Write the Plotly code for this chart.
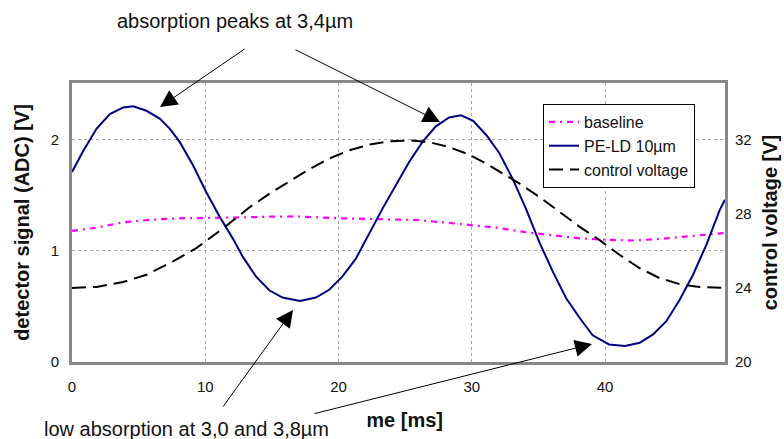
import plotly.graph_objects as go

# ---------------- data ----------------
pe_t = [0, 0.85, 1.85, 2.84, 3.84, 4.59, 5.59, 6.58, 7.33, 8.08, 9.08, 10.07, 11.07, 12.07,
        12.8, 13.8, 14.8, 15.8, 17.1, 18.3, 19.3, 20.3, 21.3, 22.3, 23.3, 24.3, 25.3, 26.3,
        27.3, 28.3, 29.2, 30.1, 31.1, 32.06, 33.06, 34.06, 35.06, 36.07, 37.07, 38.07,
        39.07, 40.3, 41.5, 42.6, 43.6, 44.6, 45.6, 46.6, 47.6, 48.6, 49.0]
pe_v = [1.71, 1.90, 2.10, 2.23, 2.29, 2.30, 2.26, 2.19, 2.10, 1.98, 1.77, 1.53, 1.31, 1.11,
        0.95, 0.77, 0.645, 0.58, 0.548, 0.58, 0.65, 0.77, 0.93, 1.16, 1.38, 1.59, 1.80, 1.98,
        2.12, 2.20, 2.22, 2.17, 2.04, 1.88, 1.65, 1.38, 1.08, 0.815, 0.576, 0.40,
        0.24, 0.158, 0.143, 0.173, 0.248, 0.367, 0.56, 0.785, 1.054, 1.367, 1.46]

base_t = [0, 1.85, 3.84, 6.08, 8.08, 10.3, 12.3, 14.8, 16.8, 20.05, 23.8, 25.8, 27.8, 29.8,
          31.8, 34.06, 36.07, 38.07, 40.07, 42.08, 44.09, 46.1, 48.1, 49.0]
base_v = [1.179, 1.209, 1.257, 1.281, 1.293, 1.30, 1.30, 1.307, 1.31, 1.293, 1.284, 1.278,
          1.257, 1.233, 1.209, 1.167, 1.137, 1.113, 1.099, 1.093, 1.107, 1.128, 1.149, 1.161]

ctrl_t = [0, 1.85, 3.84, 5.59, 7.58, 9.33, 11.32, 13.32, 15.06, 16.8, 17.8, 19.3, 20.8, 22.3,
          23.8, 25.3, 26.8, 28.3, 29.8, 31.3, 32.8, 33.56, 35.06, 36.57, 38.07, 39.57,
          41.08, 42.58, 44.09, 45.59, 47.1, 49.0]
ctrl_v = [24.0, 24.05, 24.32, 24.71, 25.43, 26.15, 27.2, 28.35, 29.2, 29.95, 30.4, 30.98,
          31.43, 31.73, 31.91, 31.96, 31.87, 31.6, 31.2, 30.62, 30.0, 29.64, 28.92, 28.11,
          27.31, 26.59, 25.79, 25.07, 24.53, 24.2, 24.05, 24.0]

x_ticks = [0, 10, 20, 30, 40]
y_ticks = [0, 1, 2]
y2_ticks = [20, 24, 28, 32]

# ---------------- layout helpers ----------------
L, R, T, B = 72, 725, 83, 362
W, H = 784, 439


def px(x):
    return (x - L) / (R - L)


def py(y):
    return (B - y) / (B - T)


FONT = "Liberation Sans, Arial, sans-serif"

fig = go.Figure()
fig.add_trace(go.Scatter(x=base_t, y=base_v, name="baseline", mode="lines",
                         line=dict(color="#FF00FF", width=2.2, dash="6px,5px,2px,5px")))
fig.add_trace(go.Scatter(x=pe_t, y=pe_v, name="PE-LD 10µm", mode="lines",
                         line=dict(color="#000080", width=2)))
fig.add_trace(go.Scatter(x=ctrl_t, y=ctrl_v, name="control voltage", mode="lines", yaxis="y2",
                         line=dict(color="#000000", width=2, dash="14px,7px")))

axis_line = dict(showline=True, linecolor="#888888", linewidth=3, mirror=True)
grid = dict(showgrid=True, gridcolor="#a8a8a8", gridwidth=1, griddash="dot")

fig.update_layout(
    width=W, height=H,
    margin=dict(l=L, r=W - R, t=T, b=H - B, autoexpand=False),
    paper_bgcolor="white", plot_bgcolor="white",
    font=dict(family=FONT, color="#111111"),
    showlegend=True,
    xaxis=dict(range=[0, 49], tickvals=x_ticks, zeroline=False,
               ticks="outside", ticklen=9, tickcolor="rgba(0,0,0,0)",
               tickfont=dict(size=15), automargin=False,
               title=dict(text="<b>time [ms]</b>", font=dict(size=20), standoff=19),
               **axis_line, **grid),
    yaxis=dict(range=[0, 2.51], tickvals=y_ticks, zeroline=False,
               ticks="outside", ticklen=7, tickcolor="rgba(0,0,0,0)",
               tickfont=dict(size=15), automargin=False,
               title=dict(text="<b>detector signal (ADC) [V]</b>", font=dict(size=20), standoff=16),
               **axis_line, **grid),
    yaxis2=dict(range=[20, 35.06], tickvals=y2_ticks, overlaying="y", side="right",
                showgrid=False, zeroline=False, ticks="outside", ticklen=6,
                tickcolor="rgba(0,0,0,0)", tickfont=dict(size=15), automargin=False,
                title=dict(text="<b>control voltage [V]</b>", font=dict(size=20), standoff=12)),
    legend=dict(x=px(543), y=py(104), xanchor="left", yanchor="top",
                bgcolor="white", bordercolor="#000000", borderwidth=1,
                font=dict(size=16, color="#111111"), tracegroupgap=0),
)

# text annotations
fig.add_annotation(text="absorption peaks at 3,4µm", xref="paper", yref="paper",
                   x=px(235), y=py(21), xanchor="center", yanchor="middle",
                   showarrow=False, font=dict(size=20, color="#111111"))
fig.add_annotation(text="low absorption at 3,0 and 3,8µm", xref="paper", yref="paper",
                   x=px(37), y=py(429), xanchor="left", yanchor="middle", align="left",
                   width=317, borderpad=6, bgcolor="white",
                   showarrow=False, font=dict(size=20, color="#111111"))

# arrows: (tail_x, tail_y, tip_x, tip_y) in pixels
arrows = [(246, 48, 160, 107), (294, 49, 440, 122),
          (222, 408, 293, 310), (313, 414, 592, 344)]
for tx, ty, hx, hy in arrows:
    fig.add_annotation(text="", xref="paper", yref="paper", x=px(hx), y=py(hy),
                       axref="pixel", ayref="pixel", ax=tx - hx, ay=ty - hy,
                       showarrow=True, arrowhead=2, arrowsize=3.4, arrowwidth=1,
                       arrowcolor="#000000")

fig.write_html("out.html", config={"displayModeBar": False},
               post_script="document.body.style.margin='0';")
